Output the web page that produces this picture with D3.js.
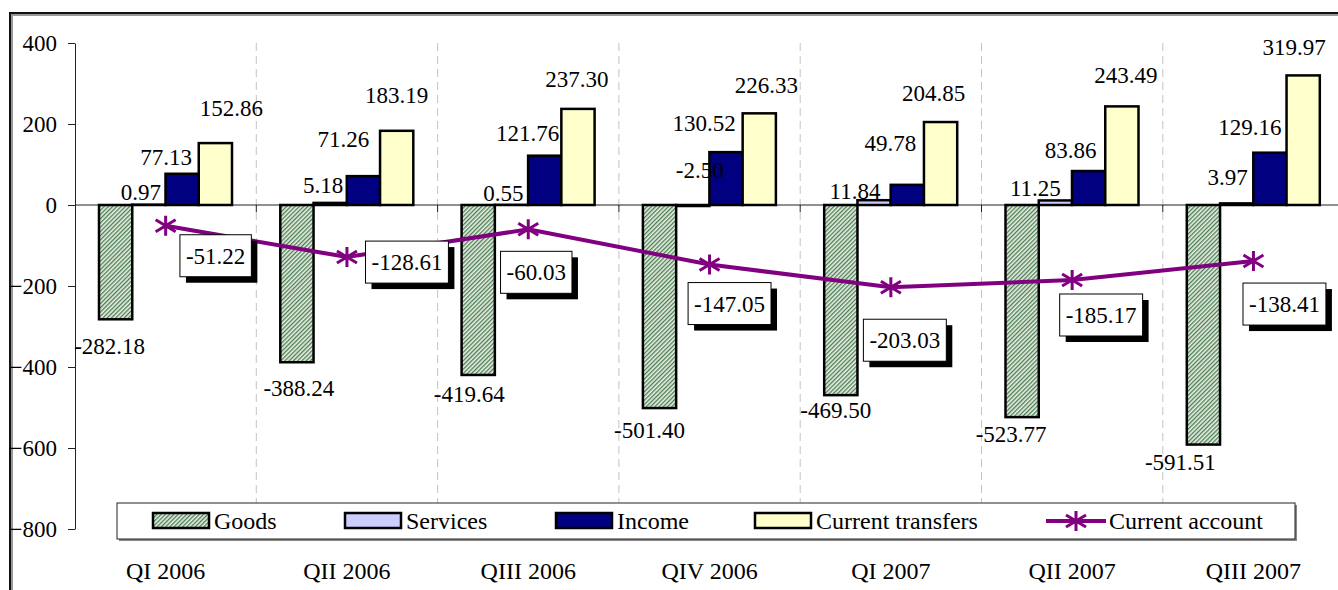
<!DOCTYPE html>
<html>
<head>
<meta charset="utf-8">
<script src="https://cdn.jsdelivr.net/npm/d3@7"></script>
<style>
  body { margin: 0; background: #fff; }
  text { font-family: "Liberation Serif", "Times New Roman", serif; fill: #000; }
</style>
</head>
<body>
<div id="graph"></div>
<script>
// quarters and the five series
var quarters = ["QI 2006", "QII 2006", "QIII 2006", "QIV 2006", "QI 2007", "QII 2007", "QIII 2007"];
var goods = [-282.18, -388.24, -419.64, -501.40, -469.50, -523.77, -591.51];
var services = [0.97, 5.18, 0.55, -2.50, 11.84, 11.25, 3.97];
var income = [77.13, 71.26, 121.76, 130.52, 49.78, 83.86, 129.16];
var transfers = [152.86, 183.19, 237.30, 226.33, 204.85, 243.49, 319.97];
var currentAccount = [-51.22, -128.61, -60.03, -147.05, -203.03, -185.17, -138.41];
var yTicks = [-800, -600, -400, -200, 0, 200, 400];

// the labels were dragged by hand in the original, so keep their pixel nudges
// [dx from bar centre, dy from bar end]
var goodsNudge = [[-6, 27], [2, 26], [-9, 19], [-10, 22], [-5, 15], [-11, 17], [-23, 17]];
var servicesNudge = [[-8, -13], [-7, -18], [-8, -12], [7, -35], [-19, -9], [-20, -12], [-9, -26]];
var incomeNudge = [[-16, -17], [-20, -37], [-17, -23], [-22, -29], [-17, -42], [-18, -21], [-20, -26]];
var transfersNudge = [[16, -35], [0, -36], [-1, -30], [7, -28], [-7, -29], [4, -31], [-9, -28]];
var caNudge = [[50, 30], [60, 5], [8, 43], [20, 39], [14, 53], [29, 35], [31, 43]];

var width = 1338,
    height = 590,
    margin = {"top": 43, "left": 75, "bottom": 61},
    bandW = 181.3;

var series = [
  {"name": "Goods", "values": goods, "nudge": goodsNudge, "fill": "url(#hatch)", "lx": 153},
  {"name": "Services", "values": services, "nudge": servicesNudge, "fill": "#ccccff", "lx": 345},
  {"name": "Income", "values": income, "nudge": incomeNudge, "fill": "#000080", "lx": 556},
  {"name": "Current transfers", "values": transfers, "nudge": transfersNudge, "fill": "#ffffcc", "lx": 755}
];

var svg = d3.select("#graph").append("svg")
    .attr("width", width)
    .attr("height", height);

var defs = svg.append("defs");
var pat = defs.append("pattern")
    .attr("id", "hatch")
    .attr("patternUnits", "userSpaceOnUse")
    .attr("width", 3).attr("height", 3)
    .attr("patternTransform", "rotate(45)");
pat.append("rect").attr("width", 3).attr("height", 3).attr("fill", "#e6f1e4");
pat.append("rect").attr("width", 1.3).attr("height", 3).attr("fill", "#4d7a52");

// outer frame
svg.append("path")
    .attr("d", "M12,590 L12,15 L1338,15")
    .attr("fill", "none").attr("stroke", "#999").attr("stroke-width", 2);
svg.append("path")
    .attr("d", "M10,590 L10,13 L1338,13")
    .attr("fill", "none").attr("stroke", "#111").attr("stroke-width", 2);

var y = d3.scaleLinear()
    .domain([-800, 400])
    .range([height - margin.bottom, margin.top]);

var x0 = d3.scaleBand()
    .domain(quarters)
    .range([margin.left, margin.left + bandW * quarters.length]);

var x1 = d3.scaleBand()
    .domain(series.map(d => d.name))
    .range([24, 24 + 133]);

// dashed separators between quarters
svg.append("g").selectAll("line")
    .data(quarters.slice(1))
  .enter().append("line")
    .attr("x1", d => x0(d)).attr("x2", d => x0(d))
    .attr("y1", y(400)).attr("y2", y(-800))
    .attr("stroke", "#c4c4c4")
    .attr("stroke-dasharray", "8,5");

// y axis
var yAxis = svg.append("g")
    .attr("transform", "translate(" + margin.left + ",0)")
    .call(d3.axisLeft(y).tickValues(yTicks).tickSize(7).tickPadding(11).tickSizeOuter(0));
yAxis.select(".domain").attr("stroke", "#222");
yAxis.selectAll(".tick line").attr("stroke", "#222");
yAxis.selectAll(".tick text").style("font-size", "23px");

// zero line with small ticks at the quarter boundaries
svg.append("line")
    .attr("x1", margin.left).attr("x2", width)
    .attr("y1", y(0)).attr("y2", y(0))
    .attr("stroke", "#222");
svg.append("g").selectAll("line")
    .data(quarters.slice(1))
  .enter().append("line")
    .attr("x1", d => x0(d)).attr("x2", d => x0(d))
    .attr("y1", y(0)).attr("y2", y(0) + 7)
    .attr("stroke", "#222");

function points(s) {
  return s.values.map((v, i) => ({"s": s, "v": v, "q": quarters[i], "n": s.nudge[i]}));
}

// bars
svg.append("g").selectAll("g")
    .data(series)
  .enter().append("g")
  .selectAll("rect")
    .data(points)
  .enter().append("rect")
    .attr("x", d => x0(d.q) + x1(d.s.name))
    .attr("y", d => y(Math.max(0, d.v)))
    .attr("width", x1.bandwidth())
    .attr("height", d => Math.abs(y(d.v) - y(0)))
    .attr("fill", d => d.s.fill)
    .attr("stroke", "#000")
    .attr("stroke-width", 2.5);

// current account line
var line = d3.line()
    .x((d, i) => x0(quarters[i]) + x0.bandwidth() / 2)
    .y(d => y(d));

svg.append("path")
    .datum(currentAccount)
    .attr("d", line)
    .attr("fill", "none")
    .attr("stroke", "#800080")
    .attr("stroke-width", 4);

function star(sel, r) {
  sel.append("path")
    .attr("d", "M0," + (-r) + "L0," + r +
               "M" + (-r) + "," + (-r * 0.6) + "L" + r + "," + (r * 0.6) +
               "M" + (-r) + "," + (r * 0.6) + "L" + r + "," + (-r * 0.6))
    .attr("stroke", "#800080")
    .attr("stroke-width", 3)
    .attr("fill", "none");
}

svg.append("g").selectAll("g")
    .data(currentAccount)
  .enter().append("g")
    .attr("transform", (d, i) => "translate(" + (x0(quarters[i]) + x0.bandwidth() / 2) + "," + y(d) + ")")
    .call(star, 10);

// bar value labels, on top of every bar
svg.append("g").selectAll("g")
    .data(series)
  .enter().append("g")
  .selectAll("text")
    .data(points)
  .enter().append("text")
    .attr("x", d => x0(d.q) + x1(d.s.name) + x1.bandwidth() / 2 + d.n[0])
    .attr("y", d => (d.s.name == "Goods" ? y(d.v) : y(Math.max(0, d.v))) + d.n[1])
    .attr("dy", "0.35em")
    .attr("text-anchor", "middle")
    .style("font-size", "23px")
    .text(d => d.v.toFixed(2));

// boxed current account labels
var caLabels = svg.append("g").selectAll("g")
    .data(currentAccount)
  .enter().append("g")
    .attr("transform", (d, i) => "translate(" + (x0(quarters[i]) + x0.bandwidth() / 2 + caNudge[i][0]) + "," + (y(d) + caNudge[i][1]) + ")");

caLabels.each(function(d) {
  var g = d3.select(this);
  var shadow = g.append("rect").attr("fill", "#000");
  var box = g.append("rect").attr("fill", "#fff").attr("stroke", "#000").attr("stroke-width", 1);
  var t = g.append("text")
      .attr("text-anchor", "middle")
      .attr("dy", "0.35em")
      .style("font-size", "23px")
      .text(d.toFixed(2));
  var w = t.node().getComputedTextLength() + 12, h = 42;
  box.attr("x", -w / 2).attr("y", -h / 2).attr("width", w).attr("height", h);
  shadow.attr("x", -w / 2 + 6).attr("y", -h / 2 + 6).attr("width", w).attr("height", h);
});

// category labels
svg.append("g").selectAll("text")
    .data(quarters)
  .enter().append("text")
    .attr("x", d => x0(d) + x0.bandwidth() / 2)
    .attr("y", 579)
    .attr("text-anchor", "middle")
    .style("font-size", "24px")
    .text(d => d);

// legend
var legend = svg.append("g");
legend.append("rect")
    .attr("x", 119).attr("y", 505).attr("width", 1178).attr("height", 36)
    .attr("fill", "#888");
legend.append("rect")
    .attr("x", 117).attr("y", 503).attr("width", 1178).attr("height", 36)
    .attr("fill", "#fff").attr("stroke", "#222").attr("stroke-width", 1);

series.forEach(function(s) {
  legend.append("rect")
      .attr("x", s.lx).attr("y", 513).attr("width", 56).attr("height", 15)
      .attr("fill", s.fill).attr("stroke", "#000").attr("stroke-width", 2.5);
  legend.append("text")
      .attr("x", s.lx + 61).attr("y", 529)
      .style("font-size", "24px")
      .text(s.name);
});
legend.append("line")
    .attr("x1", 1046).attr("x2", 1106).attr("y1", 521).attr("y2", 521)
    .attr("stroke", "#800080").attr("stroke-width", 4);
legend.append("g")
    .attr("transform", "translate(1076,521)")
    .call(star, 10);
legend.append("text")
    .attr("x", 1109).attr("y", 529)
    .style("font-size", "24px")
    .text("Current account");
</script>
</body>
</html>
